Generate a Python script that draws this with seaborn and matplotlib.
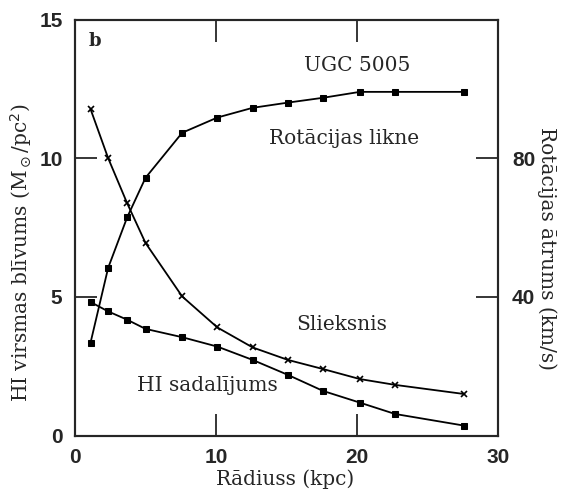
import matplotlib
matplotlib.use('Agg')
import matplotlib.pyplot as plt
import seaborn as sns

# values (UGC 5005)
radius = [1.1, 2.35, 3.7, 5.0, 7.6, 10.1, 12.6, 15.1, 17.6, 20.2, 22.7, 27.6]
rot_speed = [26.8, 48.4, 63.0, 74.4, 87.4, 91.8, 94.6, 96.1, 97.5, 99.2, 99.2, 99.2]   # km/s
threshold = [11.78, 10.01, 8.38, 6.95, 5.02, 3.90, 3.18, 2.73, 2.40, 2.04, 1.83, 1.50]
hi_density = [4.82, 4.48, 4.18, 3.85, 3.55, 3.21, 2.73, 2.19, 1.61, 1.19, 0.78, 0.36]

xticks = [0, 10, 20, 30]
yticks = [0, 5, 10, 15]
vticks = [40, 80]

sns.set_style('ticks')
serif = 'DejaVu Serif'
tickfont = {'family': 'Liberation Sans', 'weight': 'bold', 'size': 15}

fig = plt.figure(figsize=(5.64, 4.95), dpi=100)
ax = fig.add_axes([0.133, 0.120, 0.750, 0.840])
ax2 = ax.twinx()

line_kw = dict(color='black', linewidth=1.3, markeredgecolor='black')
sns.lineplot(x=radius, y=hi_density, marker='s', markersize=5, ax=ax, **line_kw)
sns.lineplot(x=radius, y=threshold, marker='x', markersize=5, markeredgewidth=1.2, ax=ax, **line_kw)
sns.lineplot(x=radius, y=rot_speed, marker='s', markersize=5, ax=ax2, **line_kw)

ax.set_xlim(0, 30)
ax.set_ylim(0, 15)
ax2.set_ylim(0, 120)

ax.set_xticks(xticks)
ax.set_yticks(yticks)
ax2.set_yticks(vticks)
ax.set_xticklabels([str(t) for t in xticks], fontdict=tickfont)
ax.set_yticklabels([str(t) for t in yticks], fontdict=tickfont)
ax2.set_yticklabels([str(t) for t in vticks], fontdict=tickfont)

ax.tick_params(axis='both', direction='in', length=16, width=1.3, top=True, pad=9)
ax.tick_params(axis='y', right=False)
ax2.tick_params(axis='y', direction='in', length=16, width=1.3, pad=10)
for a in (ax, ax2):
    for sp in a.spines.values():
        sp.set_linewidth(1.5)
        sp.set_visible(True)

lab = dict(family=serif, fontsize=14.5)
ax.set_xlabel('Rādiuss (kpc)', **lab)
ax.xaxis.set_label_coords(0.496, -0.082)
ax.set_ylabel(r'HI virsmas blīvums (M$_\odot$/pc$^2$)', **lab)
ax.yaxis.set_label_coords(-0.097, 0.44)
ax2.set_ylabel('Rotācijas ātrums (km/s)', rotation=270, va='center', **lab)
ax2.yaxis.set_label_coords(1.116, 0.45)

txt = dict(family=serif, fontsize=14.5, ha='center', va='center')
ax.text(0.033, 0.97, 'b', transform=ax.transAxes, family=serif, fontweight='bold',
        fontsize=13, ha='left', va='top')
ax.text(20.0, 13.35, 'UGC 5005', **txt)
ax.text(19.1, 10.72, 'Rotācijas likne', **txt)
ax.text(18.9, 3.99, 'Slieksnis', **txt)
ax.text(9.4, 1.82, 'HI sadalījums', **txt)

fig.savefig('out.png', dpi=100)
